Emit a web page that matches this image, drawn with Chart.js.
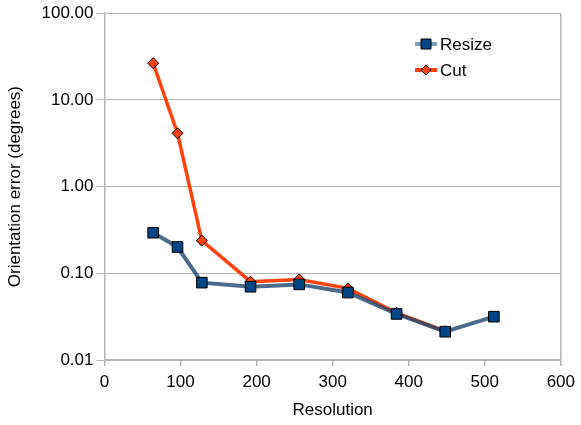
<!DOCTYPE html>
<html>
<head>
<meta charset="utf-8">
<script src="https://cdn.jsdelivr.net/npm/chart.js@4"></script>
<style>
html,body{margin:0;padding:0;background:#fff;}
#wrap{width:581px;height:425px;position:relative;}
</style>
</head>
<body>
<div id="wrap"><canvas id="c" width="581" height="425"></canvas></div>
<script>
const resizeX = [64, 96, 128, 192, 256, 320, 384, 448, 512];
const resizeY = [0.294, 0.201, 0.078, 0.070, 0.0745, 0.060, 0.034, 0.0212, 0.0316];
const cutX = [64, 96, 128, 192, 256, 320, 384, 448];
const cutY = [26.5, 4.12, 0.238, 0.080, 0.085, 0.067, 0.035, 0.0215];
const yTicks = [0.01, 0.1, 1, 10, 100];
const xTicks = [0, 100, 200, 300, 400, 500, 600];
const seriesNames = ['Resize', 'Cut'];
const xTitle = 'Resolution';
const yTitle = 'Orientation error (degrees)';

const FONT = '"Liberation Sans", Arial, sans-serif';
const GRID = '#b3b3b3';

const frameAndLegend = {
  id: 'frameAndLegend',
  beforeDatasetsDraw(chart) {
    const ctx = chart.ctx, a = chart.chartArea;
    ctx.save();
    ctx.strokeStyle = GRID; ctx.lineWidth = 1.5;
    ctx.beginPath(); ctx.moveTo(a.right, a.top); ctx.lineTo(a.right, a.bottom); ctx.stroke();
    ctx.restore();
  },
  afterDraw(chart) {
    const ctx = chart.ctx;
    const items = [
      {text: seriesNames[0], line: '#7f9dbf', fill: '#004586', shape: 'rect', y: 44},
      {text: seriesNames[1], line: '#ff420e', fill: '#ff420e', shape: 'diamond', y: 70}
    ];
    ctx.save();
    items.forEach(it => {
      ctx.strokeStyle = it.line;
      ctx.lineWidth = 4;
      ctx.beginPath(); ctx.moveTo(415, it.y); ctx.lineTo(437, it.y); ctx.stroke();
      ctx.fillStyle = it.fill; ctx.strokeStyle = '#000'; ctx.lineWidth = 1;
      ctx.beginPath();
      if (it.shape === 'rect') {
        ctx.rect(421, it.y - 5, 10, 10);
      } else {
        ctx.moveTo(426, it.y - 5); ctx.lineTo(431, it.y); ctx.lineTo(426, it.y + 5); ctx.lineTo(421, it.y); ctx.closePath();
      }
      ctx.fill(); ctx.stroke();
      ctx.fillStyle = '#000';
      ctx.font = '17px ' + FONT;
      ctx.textBaseline = 'middle';
      ctx.textAlign = 'left';
      ctx.fillText(it.text, 440, it.y + 1);
    });
    ctx.restore();
  }
};

new Chart(document.getElementById('c'), {
  type: 'line',
  data: {
    datasets: [
      {
        label: seriesNames[0],
        data: resizeX.map((x, i) => ({x, y: resizeY[i]})),
        borderColor: 'rgba(30,70,110,0.8)',
        borderWidth: 4,
        pointStyle: 'rect',
        pointRadius: 7.5,
        pointBackgroundColor: '#004586',
        pointBorderColor: '#000',
        pointBorderWidth: 1,
        order: 0,
        tension: 0
      },
      {
        label: seriesNames[1],
        data: cutX.map((x, i) => ({x, y: cutY[i]})),
        borderColor: '#ff420e',
        borderWidth: 3.5,
        pointStyle: 'rectRot',
        pointRadius: 5.5,
        pointBackgroundColor: '#ff420e',
        pointBorderColor: '#000',
        pointBorderWidth: 1,
        order: 1,
        tension: 0
      }
    ]
  },
  options: {
    responsive: false,
    animation: false,
    events: [],
    layout: {padding: {left: 0, right: 18, top: 13, bottom: 0}},
    plugins: {legend: {display: false}, tooltip: {enabled: false}},
    scales: {
      x: {
        type: 'linear',
        min: 0, max: 600,
        afterBuildTicks(s) { s.ticks = xTicks.map(v => ({value: v})); },
        afterFit(s) { s.height = 65; },
        grid: {display: true, drawOnChartArea: false, color: GRID, tickLength: 6, lineWidth: 1.5},
        border: {color: GRID, width: 1.5},
        ticks: {color: '#000', font: {family: FONT, size: 17}, padding: 6, maxRotation: 0,
          callback: v => String(v)},
        title: {display: true, text: xTitle, color: '#000', font: {family: FONT, size: 17}, padding: {top: 0, bottom: 4}}
      },
      y: {
        type: 'logarithmic',
        min: 0.01, max: 100,
        afterBuildTicks(s) { s.ticks = yTicks.map(v => ({value: v})); },
        afterFit(s) { s.width = 104.5; },
        grid: {color: GRID, tickLength: 8, lineWidth: 1},
        border: {color: GRID, width: 1.5},
        ticks: {color: '#000', font: {family: FONT, size: 17}, padding: 3,
          callback: v => Number(v).toFixed(2)},
        title: {display: true, text: yTitle, color: '#000', font: {family: FONT, size: 17}, padding: {top: 5, bottom: 0}}
      }
    }
  },
  plugins: [frameAndLegend]
});
</script>
</body>
</html>
